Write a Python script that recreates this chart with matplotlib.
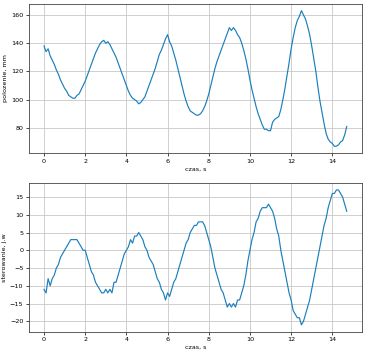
import numpy as np
from matplotlib import pyplot as plt

# czas, s (sampling every 0.1 s)
czas = [0.0, 0.1, 0.2, 0.3, 0.4, 0.5, 0.6, 0.7, 0.8, 0.9,
	1.0, 1.1, 1.2, 1.3, 1.4, 1.5, 1.6, 1.7, 1.8, 1.9,
	2.0, 2.1, 2.2, 2.3, 2.4, 2.5, 2.6, 2.7, 2.8, 2.9,
	3.0, 3.1, 3.2, 3.3, 3.4, 3.5, 3.6, 3.7, 3.8, 3.9,
	4.0, 4.1, 4.2, 4.3, 4.4, 4.5, 4.6, 4.7, 4.8, 4.9,
	5.0, 5.1, 5.2, 5.3, 5.4, 5.5, 5.6, 5.7, 5.8, 5.9,
	6.0, 6.1, 6.2, 6.3, 6.4, 6.5, 6.6, 6.7, 6.8, 6.9,
	7.0, 7.1, 7.2, 7.3, 7.4, 7.5, 7.6, 7.7, 7.8, 7.9,
	8.0, 8.1, 8.2, 8.3, 8.4, 8.5, 8.6, 8.7, 8.8, 8.9,
	9.0, 9.1, 9.2, 9.3, 9.4, 9.5, 9.6, 9.7, 9.8, 9.9,
	10.0, 10.1, 10.2, 10.3, 10.4, 10.5, 10.6, 10.7, 10.8, 10.9,
	11.0, 11.1, 11.2, 11.3, 11.4, 11.5, 11.6, 11.7, 11.8, 11.9,
	12.0, 12.1, 12.2, 12.3, 12.4, 12.5, 12.6, 12.7, 12.8, 12.9,
	13.0, 13.1, 13.2, 13.3, 13.4, 13.5, 13.6, 13.7, 13.8, 13.9,
	14.0, 14.1, 14.2, 14.3, 14.4, 14.5, 14.6, 14.7]

# polozenie, mm
polozenie = [138, 134, 136, 131, 128, 125, 121, 118, 114, 111,
	108, 106, 103, 102, 101, 101, 103, 104, 107, 110,
	113, 117, 121, 125, 129, 133, 136, 139, 141, 142,
	140, 141, 139, 136, 133, 130, 126, 122, 118, 114,
	110, 106, 103, 101, 100, 99, 97, 98, 100, 102,
	106, 110, 114, 118, 122, 127, 132, 135, 139, 143,
	146, 141, 138, 133, 128, 122, 116, 110, 104, 99,
	95, 92, 91, 90, 89, 89, 90, 92, 95, 99,
	104, 110, 116, 122, 127, 131, 135, 139, 143, 147,
	151, 149, 151, 149, 146, 144, 140, 135, 129, 122,
	114, 107, 101, 95, 90, 86, 82, 79, 79, 78,
	78, 84, 86, 87, 88, 93, 100, 108, 117, 126,
	136, 144, 151, 156, 159, 163, 160, 157, 152, 146,
	138, 129, 120, 109, 99, 91, 83, 76, 72, 70,
	69, 67, 67, 68, 70, 71, 75, 81]

# sterowanie, j.w
sterowanie = [-11, -12, -8, -10, -8, -7, -5, -4, -2, -1,
	0, 1, 2, 3, 3, 3, 3, 2, 1, 0,
	0, -2, -4, -6, -7, -9, -10, -11, -12, -12,
	-11, -12, -11, -12, -9, -9, -7, -5, -3, -1,
	0, 1, 3, 2, 4, 4, 5, 4, 3, 1,
	0, -2, -3, -4, -6, -8, -9, -11, -12, -14,
	-12, -13, -11, -9, -8, -6, -4, -2, 0, 2,
	3, 5, 6, 7, 7, 8, 8, 8, 7, 5,
	3, 1, -2, -5, -7, -9, -11, -12, -14, -16,
	-15, -16, -15, -16, -14, -14, -12, -10, -7, -3,
	0, 3, 5, 8, 9, 11, 12, 12, 12, 13,
	12, 11, 9, 6, 4, 0, -3, -6, -9, -12,
	-14, -17, -18, -19, -19, -21, -20, -18, -16, -14,
	-11, -8, -5, -2, 1, 4, 7, 9, 12, 14,
	16, 16, 17, 17, 16, 15, 13, 11]

plt.rcParams['font.size'] = 4.6

fig = plt.figure(figsize=(3.7, 3.55), dpi=100)
ax1 = fig.add_axes([0.078, 0.569, 0.9, 0.42])
ax2 = fig.add_axes([0.078, 0.066, 0.9, 0.418])

ax1.plot(czas, polozenie, color="#1b7fbb", lw=0.85)
ax1.set_xlabel("czas, s", labelpad=2)
ax1.set_ylabel("polozenie, mm", labelpad=2)
ax1.set_xticks(np.arange(0, 15, 2))
ax1.set_yticks([80, 100, 120, 140, 160])
ax1.grid(True, color="#c8c8c8", lw=0.6)

ax2.plot(czas, sterowanie, color="#1b7fbb", lw=0.85)
ax2.set_xlabel("czas, s", labelpad=2)
ax2.set_ylabel("sterowanie, j.w", labelpad=2)
ax2.set_xticks(np.arange(0, 15, 2))
ax2.set_yticks([-20, -15, -10, -5, 0, 5, 10, 15])
ax2.grid(True, color="#c8c8c8", lw=0.6)

for ax in (ax1, ax2):
	ax.tick_params(length=2, width=0.5, pad=2)
	for s in ax.spines.values():
		s.set_linewidth(0.6)
		s.set_color("#444444")

plt.savefig("out.png", dpi=100)
